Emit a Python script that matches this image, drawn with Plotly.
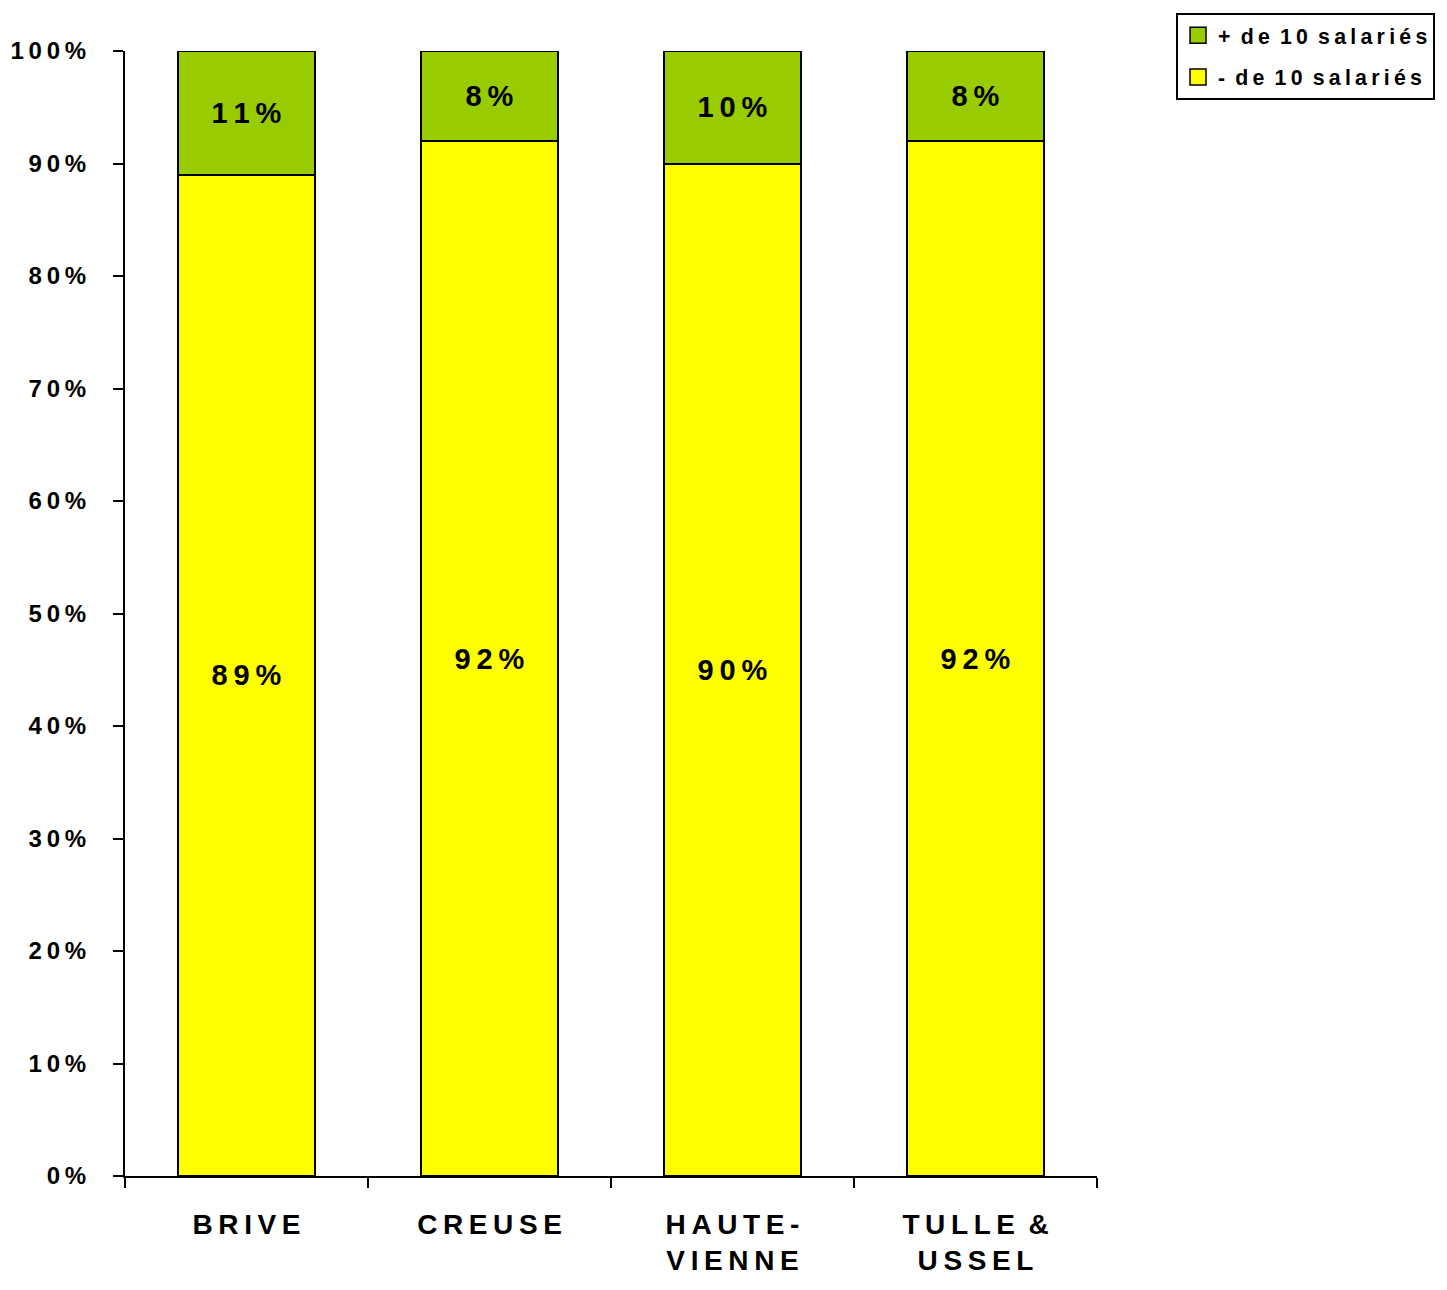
import plotly.graph_objects as go

# Share of establishments by size, per zone
categories = ["BRIVE", "CREUSE", "HAUTE-\nVIENNE", "TULLE &\nUSSEL"]
moins_10 = [89, 92, 90, 92]   # - de 10 salariés
plus_10 = [11, 8, 10, 8]      # + de 10 salariés
y_ticks = [0, 10, 20, 30, 40, 50, 60, 70, 80, 90, 100]
series_names = ["- de 10 salariés", "+ de 10 salariés"]
series_colors = ["#FFFF00", "#99CC00"]

FONT = "Liberation Sans, Arial, sans-serif"
THIN = "\u2009"


def spaced(s):
    """Spread letters apart with thin spaces; words keep a wider gap."""
    lines = []
    for line in s.split("\n"):
        words = [THIN.join(w) for w in line.split(" ")]
        lines.append((" " + THIN).join(words))
    return "<br>".join(lines)


x_labels = [spaced(c) for c in categories]


def pct_labels(vals):
    return [spaced(f"{v}%") for v in vals]


fig = go.Figure()
for vals, name, color, grp, rank in [
    (moins_10, series_names[0], series_colors[0], "a", 2),
    (plus_10, series_names[1], series_colors[1], "b", 1),
]:
    fig.add_trace(go.Bar(
        x=x_labels, y=vals, name=spaced(name), showlegend=False,
        marker=dict(color=color, line=dict(color="#000000", width=2)),
        text=pct_labels(vals), textposition="inside", insidetextanchor="middle",
        textangle=0, constraintext="none",
        textfont=dict(family=FONT, size=29, color="#000000", weight="bold"),
        legendgroup=grp,
    ))
    # legend swatch: square marker with a black outline
    fig.add_trace(go.Scatter(
        x=[None], y=[None], mode="markers", name=spaced(name),
        marker=dict(symbol="square", size=16, color=color,
                    line=dict(color="#000000", width=1.5)),
        legendgroup=grp, legendrank=rank, hoverinfo="skip",
    ))

fig.update_layout(
    width=1447, height=1290,
    margin=dict(l=125, r=350, t=51, b=114),
    paper_bgcolor="white", plot_bgcolor="white",
    barmode="stack", bargap=0.44,
    font=dict(family=FONT, color="#000000", weight="bold"),
    showlegend=True,
    legend=dict(
        x=1.0813, y=1.0338, xanchor="left", yanchor="top",
        traceorder="grouped", tracegroupgap=11, itemsizing="trace",
        bordercolor="#000000", borderwidth=2, bgcolor="white",
        font=dict(family=FONT, size=21.3, color="#000000", weight="bold"),
    ),
    xaxis=dict(
        type="category", showline=True, linecolor="#000000", linewidth=2,
        ticks="outside", tickson="boundaries", ticklen=10, tickwidth=2,
        tickcolor="#000000", showgrid=False, zeroline=False,
        ticklabelstandoff=22, automargin=False,
        tickfont=dict(family=FONT, size=28, color="#000000", weight="bold"),
    ),
    yaxis=dict(
        range=[0, 100], tickvals=y_ticks,
        ticktext=[spaced(f"{v}%") for v in y_ticks],
        showline=True, linecolor="#000000", linewidth=2,
        ticks="outside", ticklen=10, tickwidth=2, tickcolor="#000000",
        showgrid=False, zeroline=False, ticklabelstandoff=22, automargin=False,
        tickfont=dict(family=FONT, size=24, color="#000000", weight="bold"),
    ),
)

fig.write_html("out.html")
